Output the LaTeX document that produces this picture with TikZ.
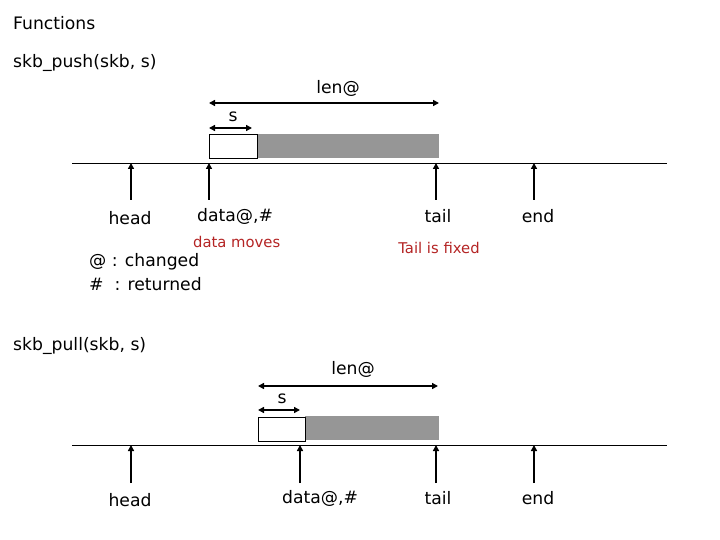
\documentclass[tikz,border=0pt]{standalone}
\usepackage{fontspec}
\setmainfont{DejaVu Sans}
\usetikzlibrary{positioning,arrows.meta}
\definecolor{notered}{RGB}{180,36,36}
\definecolor{bufgray}{RGB}{150,150,150}

\begin{document}
\begin{tikzpicture}[x=1pt,y=-1pt,
  lbl/.style={font=\fontsize{17.2}{20}\selectfont,inner sep=0pt},
  note/.style={font=\fontsize{14.8}{17}\selectfont,text=notered,inner sep=0pt},
  hdbox/.style={rectangle,draw=black,fill=white,line width=0.8pt,minimum height=24pt,inner sep=0pt},
  datbox/.style={rectangle,fill=bufgray,minimum height=24pt,inner sep=0pt},
  arr/.style={-{Triangle[length=6pt,width=6pt]},line width=1.6pt},
  dim/.style={{Triangle[length=6pt,width=6pt]}-{Triangle[length=6pt,width=6pt]},line width=1.8pt}
]
\useasboundingbox (0,0) rectangle (720,540);

% skb_push
\node[lbl,anchor=west] (fun) at (13,23) {Functions};
\node[lbl,anchor=west] (push) at (13,63) {skb\_push(skb, s)};
\node[lbl] (plen) at (338,88) {len@};
\node[lbl] (ps) at (233,117) {s};
\coordinate (plenA) at (209,103);
\coordinate (plenB) at (439,103);
\coordinate (psA) at (209,128);
\coordinate (psB) at (252,128);
\draw[dim] (plenA) -- (plenB);
\draw[dim] (psA) -- (psB);
\node[datbox,minimum width=182pt] (pdat) at (348,146) {};
\node[hdbox,minimum width=48pt] (pnew) at (233,146) {};
\coordinate (pL) at (72,163);
\coordinate (pR) at (667,163);
\draw[line width=0.8pt] (pL) -- (pR);

\node[lbl] (phead) at (130,218) {head};
\node[lbl] (pdata) at (235,216) {data@,\#};
\node[lbl] (ptail) at (438,216) {tail};
\node[lbl] (pend) at (538,216) {end};
\coordinate (pheadT) at (131,163);
\coordinate (pdataT) at (209,163);
\coordinate (ptailT) at (436,163);
\coordinate (pendT) at (534,163);
\draw[arr] (131,200) -- (pheadT);
\draw[arr] (209,200) -- (pdataT);
\draw[arr] (436,200) -- (ptailT);
\draw[arr] (534,200) -- (pendT);

\node[note,anchor=west] (pmove) at (193,242) {data moves};
\node[note] (pfix) at (439,248) {Tail is fixed};
\node[lbl,anchor=west] (key1) at (89,262) {@ : changed};
\node[lbl,anchor=west] (key2) at (89,284) {\#\ \ : returned};

% skb_pull
\node[lbl,anchor=west] (pull) at (13,346) {skb\_pull(skb, s)};
\node[lbl] (qlen) at (353,369) {len@};
\node[lbl] (qs) at (282,399) {s};
\coordinate (qlenA) at (258,386);
\coordinate (qlenB) at (438,386);
\coordinate (qsA) at (258,410);
\coordinate (qsB) at (300,410);
\draw[dim] (qlenA) -- (qlenB);
\draw[dim] (qsA) -- (qsB);
\node[datbox,minimum width=134pt] (qdat) at (372,428) {};
\node[hdbox,minimum width=47pt] (qold) at (281.5,429) {};
\coordinate (qL) at (72,445);
\coordinate (qR) at (667,445);
\draw[line width=0.8pt] (qL) -- (qR);

\node[lbl] (qhead) at (130,500) {head};
\node[lbl] (qdata) at (320,498) {data@,\#};
\node[lbl] (qtail) at (438,498) {tail};
\node[lbl] (qend) at (538,498) {end};
\coordinate (qheadT) at (131,445);
\coordinate (qdataT) at (300,445);
\coordinate (qtailT) at (436,445);
\coordinate (qendT) at (534,445);
\draw[arr] (131,483) -- (qheadT);
\draw[arr] (300,483) -- (qdataT);
\draw[arr] (436,483) -- (qtailT);
\draw[arr] (534,483) -- (qendT);
\end{tikzpicture}
\end{document}
